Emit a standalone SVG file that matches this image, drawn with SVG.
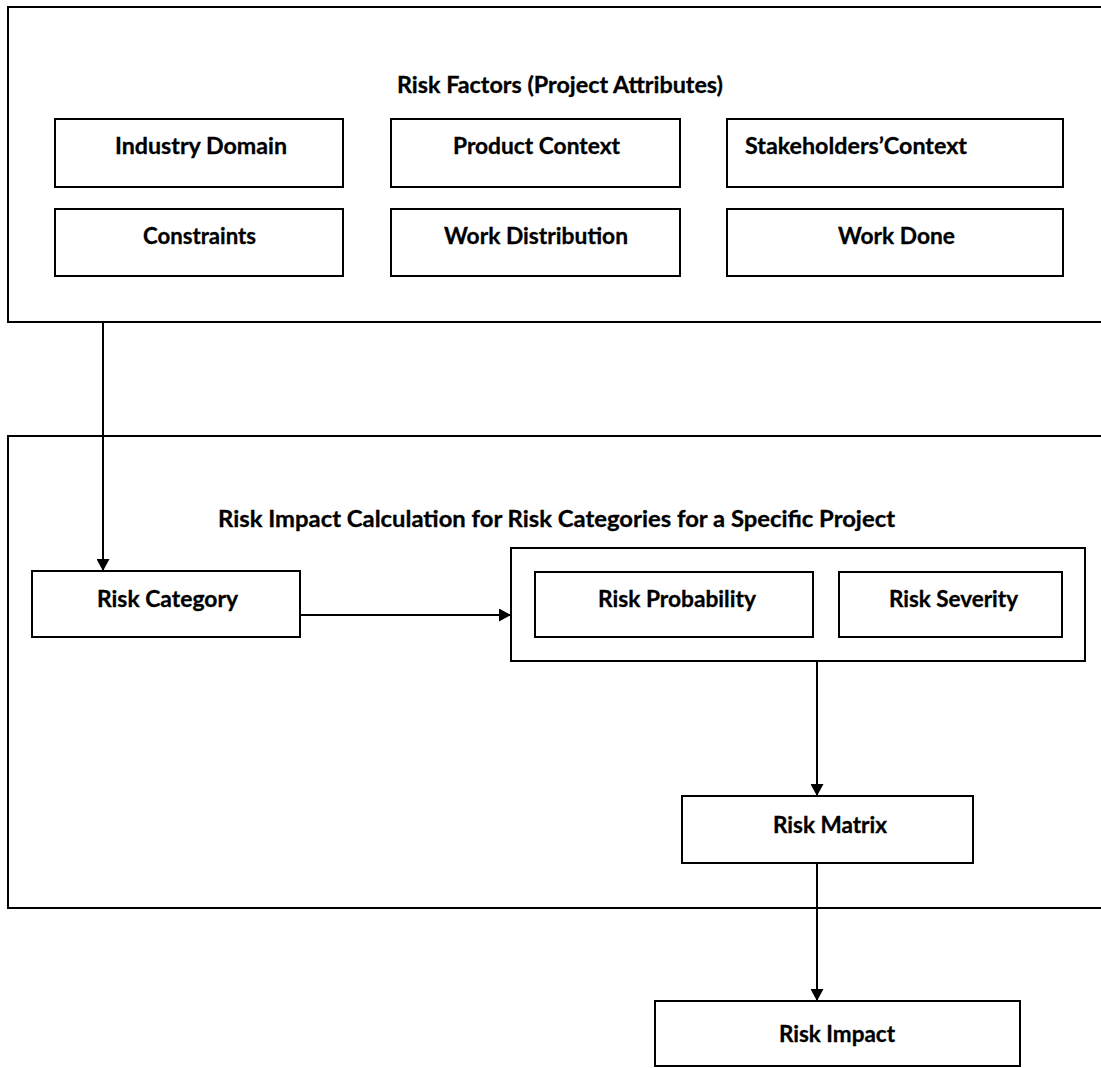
<svg xmlns="http://www.w3.org/2000/svg" width="1101" height="1068" viewBox="0 0 1101 1068">
<style>
.box{fill:#fff;stroke:#000;stroke-width:2}
.frame{fill:none;stroke:#000;stroke-width:2}
.t{font-family:Lato,"Open Sans","Liberation Sans",sans-serif;font-weight:bold;font-size:22px;fill:#000;stroke:#000;stroke-width:0.3}
.c{fill:none;stroke:#000;stroke-width:2}
</style>
<defs>
<marker id="ah" markerWidth="12" markerHeight="13" refX="11" refY="6.5" orient="auto" markerUnits="userSpaceOnUse">
<path d="M0,0 L12,6.5 L0,13 Z" fill="#000"/>
</marker>
</defs>
<rect width="1101" height="1068" fill="#fff"/>
<g id="risk-factors">
<rect class="frame" x="8" y="7" width="1110" height="315"/>
<text class="t" x="397" y="93" textLength="326" lengthAdjust="spacingAndGlyphs">Risk Factors (Project Attributes)</text>
</g>
<g id="industry-domain"><rect class="box" x="55" y="119" width="288" height="68"/><text class="t" x="115" y="154" textLength="172" lengthAdjust="spacingAndGlyphs">Industry Domain</text></g>
<g id="product-context"><rect class="box" x="391" y="119" width="289" height="68"/><text class="t" x="453" y="154" textLength="167" lengthAdjust="spacingAndGlyphs">Product Context</text></g>
<g id="stakeholders-context"><rect class="box" x="727" y="119" width="336" height="68"/><text class="t" x="745" y="154" textLength="222" lengthAdjust="spacingAndGlyphs">Stakeholders’Context</text></g>
<g id="constraints"><rect class="box" x="55" y="209" width="288" height="67"/><text class="t" x="143" y="244" textLength="113" lengthAdjust="spacingAndGlyphs">Constraints</text></g>
<g id="work-distribution"><rect class="box" x="391" y="209" width="289" height="67"/><text class="t" x="444" y="244" textLength="184" lengthAdjust="spacingAndGlyphs">Work Distribution</text></g>
<g id="work-done"><rect class="box" x="727" y="209" width="336" height="67"/><text class="t" x="838" y="244" textLength="117" lengthAdjust="spacingAndGlyphs">Work Done</text></g>
<g id="risk-impact-calculation">
<rect class="frame" x="8" y="436" width="1110" height="472"/>
<text class="t" x="218" y="527" textLength="677" lengthAdjust="spacingAndGlyphs">Risk Impact Calculation for Risk Categories for a Specific Project</text>
</g>
<g id="risk-category"><rect class="box" x="32" y="571" width="268" height="66"/><text class="t" x="97" y="607" textLength="141" lengthAdjust="spacingAndGlyphs">Risk Category</text></g>
<g id="probability-severity"><rect class="box" x="511" y="548" width="574" height="113"/></g>
<g id="risk-probability"><rect class="box" x="535" y="572" width="278" height="65"/><text class="t" x="598" y="607" textLength="158" lengthAdjust="spacingAndGlyphs">Risk Probability</text></g>
<g id="risk-severity"><rect class="box" x="839" y="572" width="223" height="65"/><text class="t" x="889" y="607" textLength="129" lengthAdjust="spacingAndGlyphs">Risk Severity</text></g>
<g id="risk-matrix"><rect class="box" x="682" y="796" width="291" height="67"/><text class="t" x="773" y="833" textLength="114" lengthAdjust="spacingAndGlyphs">Risk Matrix</text></g>
<g id="risk-impact"><rect class="box" x="655" y="1001" width="365" height="65"/><text class="t" x="779" y="1042" textLength="116" lengthAdjust="spacingAndGlyphs">Risk Impact</text></g>
<g id="connectors">
<line class="c" x1="103" y1="322" x2="103" y2="570" marker-end="url(#ah)"/>
<line class="c" x1="300" y1="615" x2="510" y2="615" marker-end="url(#ah)"/>
<line class="c" x1="817" y1="661" x2="817" y2="795" marker-end="url(#ah)"/>
<line class="c" x1="817" y1="863" x2="817" y2="1000" marker-end="url(#ah)"/>
</g>
</svg>
